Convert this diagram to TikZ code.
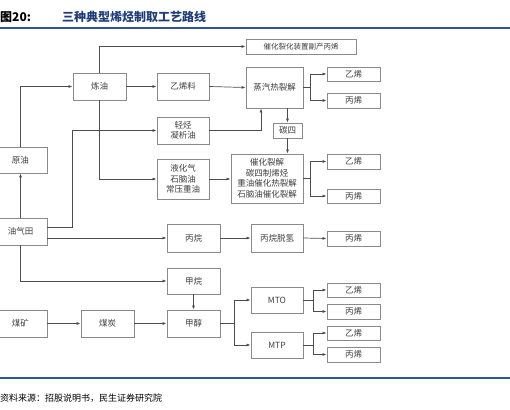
\documentclass[tikz,border=0pt]{standalone}
\usepackage{fontspec}
\setmainfont{Noto Sans CJK SC}
\usetikzlibrary{arrows.meta,shadows,calc}
\definecolor{titleblue}{HTML}{1F3D7A}
\definecolor{ruleblue}{HTML}{2F5597}
\definecolor{boxgray}{HTML}{8A8A8A}
\definecolor{txtgray}{HTML}{404040}
\tikzset{
  box/.style={draw=boxgray, line width=0.9pt, fill=white, text=txtgray,
    font=\fontsize{8.5}{10.5}\selectfont, align=center, inner sep=1pt,
    drop shadow={shadow xshift=0.8pt, shadow yshift=-0.8pt, opacity=0.25}},
  link/.style={draw=black!70, line width=0.7pt, -{Latex[length=4pt,width=3pt]}},
  plain/.style={draw=black!70, line width=0.7pt},
}
\begin{document}
\begin{tikzpicture}[x=1pt,y=-1pt]
    \useasboundingbox (0,0) rectangle (510,409);
    % Title
    \node[anchor=west, inner sep=0pt, font=\fontsize{12}{14}\selectfont\bfseries] (fignum) at (0,17) {图20:};
    \node[anchor=west, inner sep=0pt, text=titleblue, font=\fontsize{12}{14}\selectfont\bfseries] (title) at (62,17) {三种典型烯烃制取工艺路线};
    \draw[ruleblue, line width=1.6pt] (0,28) -- (510,28);
    % Oil route
    \node[box, minimum width=110, minimum height=15, font=\fontsize{7.5}{9}\selectfont] (fccp) at (301,46.5) {催化裂化装置副产丙烯};
    \node[box, minimum width=53, minimum height=27] (refine) at (99.5,86.5) {炼油};
    \node[box, minimum width=52, minimum height=27] (ethfeed) at (183,86.5) {乙烯料};
    \node[box, minimum width=53, minimum height=26] (crude) at (20.5,160) {原油};
    \node[box, minimum width=52, minimum height=27] (light) at (183,130.5) {轻烃\\凝析油};
    \node[box, minimum width=52, minimum height=40] (lpg) at (183,179) {液化气\\石脑油\\常压重油};
    \node[box, minimum width=57, minimum height=41] (steam) at (274.5,87.5) {蒸汽热裂解};
    \node[box, minimum width=53, minimum height=14] (sA) at (353.5,74) {乙烯};
    \node[box, minimum width=53, minimum height=15] (sB) at (353.5,100.5) {丙烯};
    \node[box, minimum width=29, minimum height=15] (cfour) at (287.5,130.5) {碳四};
    \node[box, minimum width=72, minimum height=49] (cat) at (267,178.5) {催化裂解\\碳四制烯烃\\重油催化热裂解\\石脑油催化裂解};
    \node[box, minimum width=53, minimum height=15] (cA) at (353.5,161.5) {乙烯};
    \node[box, minimum width=53, minimum height=14] (cB) at (353.5,196) {丙烯};
    % Gas route
    \node[box, minimum width=53, minimum height=27] (field) at (20.5,231.5) {油气田};
    \node[box, minimum width=53, minimum height=28] (propane) at (193.5,238) {丙烷};
    \node[box, minimum width=52, minimum height=28] (pdh) at (277,238) {丙烷脱氢};
    \node[box, minimum width=53, minimum height=15] (dA) at (353.5,238.5) {丙烯};
    \node[box, minimum width=53, minimum height=26] (methane) at (193.5,281) {甲烷};
    % Coal route
    \node[box, minimum width=53, minimum height=27] (ore) at (20.5,323.5) {煤矿};
    \node[box, minimum width=53, minimum height=27] (coal) at (107.5,323.5) {煤炭};
    \node[box, minimum width=53, minimum height=27] (methanol) at (193.5,323.5) {甲醇};
    \node[box, minimum width=52, minimum height=26] (mto) at (277,300) {MTO};
    \node[box, minimum width=52, minimum height=26] (mtp) at (277,345) {MTP};
    \node[box, minimum width=53, minimum height=14] (oA) at (353.5,290) {乙烯};
    \node[box, minimum width=53, minimum height=15] (oB) at (353.5,311.5) {丙烯};
    \node[box, minimum width=53, minimum height=14] (pA) at (353.5,333) {乙烯};
    \node[box, minimum width=53, minimum height=15] (pB) at (353.5,354.5) {丙烯};
    % Fork points
    \coordinate (sfork) at ($(steam.east)+(7,0)$);
    \coordinate (cfork) at ($(cat.east)+(7,0)$);
    \coordinate (mfork) at ($(methanol.east)+(14,0)$);
    \coordinate (ofork) at ($(mto.east)+(10,0)$);
    \coordinate (pfork) at ($(mtp.east)+(10,0)$);
    % Connectors
    \draw[link] (refine.north) |- (fccp.west);
    \draw[link] (crude.north) |- (refine.west);
    \draw[link] (refine.east) -- (ethfeed.west);
    \draw[link] (ethfeed.east) -- (steam.west);
    \draw[link] (refine.south) |- (lpg.west);
    \draw[link] ([yshift=4pt]field.east) -| (refine.west |- light.west) -- (light.west);
    \draw[link] (light.east) -| ([xshift=-13.5pt]steam.south);
    \draw[plain] (steam.east) -- (sfork);
    \draw[link] (sfork) |- (sA.west);
    \draw[link] (sfork) |- (sB.west);
    \draw[link] (cfour.north |- steam.south) -- (cfour.north);
    \draw[link] (cfour.south) -- (cfour.south |- cat.north);
    \draw[link] (lpg.east) -- (lpg.east -| cat.west);
    \draw[plain] (cat.east) -- (cfork);
    \draw[link] (cfork) |- (cA.west);
    \draw[link] (cfork) |- (cB.west);
    \draw[link] (field.north) -- (crude.south);
    \draw[link] (field.east |- propane.west) -- (propane.west);
    \draw[link] (propane.east) -- (pdh.west);
    \draw[link] (pdh.east) -- (dA.west);
    \draw[link] (field.south) |- (methane.west);
    \draw[link] (methane.south) -- (methanol.north);
    \draw[link] (ore.east) -- (coal.west);
    \draw[link] (coal.east) -- (methanol.west);
    \draw[plain] (methanol.east) -- (mfork);
    \draw[link] (mfork) |- (mto.west);
    \draw[link] (mfork) |- (mtp.west);
    \draw[plain] (mto.east) -- (ofork);
    \draw[link] (ofork) |- (oA.west);
    \draw[link] (ofork) |- (oB.west);
    \draw[plain] (mtp.east) -- (pfork);
    \draw[link] (pfork) |- (pA.west);
    \draw[link] (pfork) |- (pB.west);
    % Source
    \draw[ruleblue, line width=1.2pt] (0,378) -- (510,378);
    \node[anchor=west, inner sep=0pt, text=black, font=\fontsize{9}{11}\selectfont] (source) at (0,398) {资料来源：招股说明书，民生证券研究院};
\end{tikzpicture}
\end{document}
